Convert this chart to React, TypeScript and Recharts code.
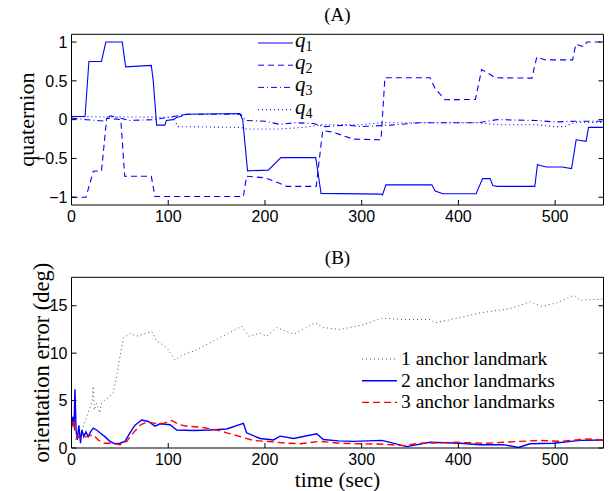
import { LineChart, Line, XAxis, YAxis, Legend } from 'recharts';

// panel A: quaternion components, [time, value]
const q1 = [[0,0.04],[14,0.04],[18,0.75],[31,0.75],[35.5,1.0],[52.5,1.0],[56,0.68],[82.5,0.70],[84.5,0.5],[88,-0.07],[96.5,-0.07],[98,-0.01],[105,0.0],[109,0.03],[113,0.04],[115,0.06],[119,0.07],[174,0.08],[177,0.0],[182,-0.66],[203.5,-0.65],[216.5,-0.49],[252.5,-0.49],[255,-0.7],[258,-0.95],[320,-0.96],[321.5,-0.97],[325,-0.84],[372.5,-0.84],[376,-0.92],[384,-0.955],[418.3,-0.955],[425,-0.76],[432.8,-0.76],[435.5,-0.85],[440,-0.86],[479,-0.86],[481.7,-0.58],[490.7,-0.61],[507,-0.61],[517,-0.63],[521.7,-0.26],[532,-0.28],[534.5,-0.1],[550,-0.1]];
const q2 = [[0,-1.0],[15,-1.0],[22.5,-0.665],[31,-0.66],[36.4,0.02],[51,0.0],[55,-0.73],[82.5,-0.73],[86.3,-0.99],[177.7,-0.99],[181,-0.73],[200,-0.75],[215,-0.82],[222.5,-0.86],[253,-0.86],[259.7,-0.14],[270,-0.16],[291,-0.25],[320,-0.26],[324,0.54],[370.7,0.54],[376,0.40],[386,0.257],[417.6,0.26],[424,0.645],[428,0.62],[438,0.54],[476,0.535],[481,0.807],[490,0.77],[518,0.77],[521.4,0.97],[529.6,0.94],[533,1.0],[550,1.0]];
const q3 = [[0,0.02],[15,0.0],[35,-0.02],[40,0.05],[50,0.02],[60,-0.01],[85,0.0],[100,0.03],[110,0.05],[120,0.07],[175,0.07],[180,-0.01],[200,-0.02],[215,-0.06],[232,-0.04],[250,-0.05],[262,-0.09],[285,-0.07],[300,-0.09],[330,-0.07],[360,-0.04],[420,-0.04],[440,0.0],[480,-0.01],[500,-0.03],[520,-0.02],[550,-0.02]];
const q4 = [[0,0.04],[105,0.03],[110,-0.09],[175,-0.1],[181,-0.12],[216,-0.12],[240,-0.1],[260,-0.065],[300,-0.065],[320,-0.04],[420,-0.04],[440,-0.065],[480,-0.065],[500,-0.09],[510,-0.09],[520,-0.035],[550,-0.035]];

// panel B: orientation error (deg), [time, value]
const anchor1 = [[3.6,0.9],[8.8,1.2],[15.7,3.3],[20.9,4.75],[22.5,6.5],[23.5,4.0],[26,4.7],[29.4,3.7],[31,4.75],[38,5.3],[43.2,5.8],[46.6,7.6],[50.2,9.7],[53.6,11.6],[60.5,12.1],[67.4,11.8],[74.3,12.0],[82.9,12.3],[88,11.3],[98.4,10.6],[107,9.3],[115.7,9.85],[126,10.2],[143.2,11.1],[160.5,12.0],[176,12.85],[183,11.8],[195,12.1],[202,11.8],[212,12.7],[229.6,12.0],[251.8,13.2],[260,12.7],[277.7,12.5],[301.8,13.0],[320.8,13.7],[343,13.55],[370.7,13.55],[375.8,13.2],[394.8,13.6],[422.4,14.25],[453.5,14.7],[474.2,15.4],[486.3,14.95],[501.8,15.3],[519,16.1],[525.9,15.6],[550,15.7]];
const anchor2 = [[0,2.3],[1.6,3.3],[2.6,2.3],[3.6,6.2],[4.7,1.9],[6,0.85],[7.6,2.4],[9.3,0.5],[10.7,1.9],[12.8,1.2],[14.9,1.7],[17.3,1.2],[19.7,1.7],[22.5,2.1],[25.9,1.9],[29.4,1.6],[34.5,1.2],[39.7,0.7],[44.8,0.45],[50,0.5],[55.2,0.7],[60.5,1.6],[65.6,2.4],[72.6,2.95],[79.5,2.8],[86.4,2.3],[91.6,2.55],[101.9,2.45],[108.8,1.9],[126,1.85],[143.2,1.9],[160.5,2.0],[177.7,2.6],[181,1.6],[195,1.0],[208.8,0.85],[215.7,1.25],[229.6,1.0],[253.5,1.5],[260.4,0.9],[276,0.75],[291.6,0.7],[320.8,0.8],[329.5,0.6],[346.6,0.15],[370.7,0.6],[401.8,0.5],[422.4,0.35],[446.5,0.35],[462,0.05],[474,0.45],[498.3,0.5],[525.9,0.8],[550,0.85]];
const anchor3 = [[0,2.1],[2.2,2.9],[3.6,1.6],[6.9,1.2],[10.4,1.0],[15.6,1.2],[22.5,1.4],[27.6,0.85],[32.8,0.5],[41.4,0.5],[50.2,0.35],[57,0.7],[63.9,1.6],[70.8,2.4],[77.7,2.75],[86.4,2.6],[95,2.6],[103.6,2.9],[110.5,2.5],[119.1,2.3],[132.9,2.2],[150.1,1.9],[160.5,1.6],[174.3,1.2],[188,0.8],[201.9,0.7],[222.6,0.5],[236.4,0.45],[257,0.7],[277.7,0.5],[298.3,0.45],[322.5,0.4],[343.2,0.25],[360.4,0.5],[394.8,0.6],[429.3,0.5],[463.8,0.7],[484.5,0.8],[505,0.7],[532.6,0.95],[550,0.85]];

const xTicks = [0, 100, 200, 300, 400, 500];
const qTicks = [-1, -0.5, 0, 0.5, 1];
const errTicks = [0, 5, 10, 15];
const qNames = ['q1', 'q2', 'q3', 'q4'];
const errNames = ['1 anchor landmark', '2 anchor landmarks', '3 anchor landmarks'];

const toPts = (arr: number[][]) => arr.map(([t, v]) => ({ t, v }));

const SERIF = 'Liberation Serif, Times New Roman, serif';
const SANS = 'Liberation Sans, Arial, sans-serif';
const BLUE = '#0000ff';

const qStyles = [
  { dash: undefined },
  { dash: '6 4' },
  { dash: '6 3 1 3' },
  { dash: '1 3' },
];

const errStyles = [
  { color: '#555555', dash: '1 3', width: 1 },
  { color: BLUE, dash: undefined, width: 1.4 },
  { color: '#ff0000', dash: '7 4', width: 1.4 },
];

const minus = (v: number) => (v < 0 ? '\u2212' + Math.abs(v) : String(v));
const blank = () => '';
const tickFont = { fontFamily: SANS, fontSize: 16, fill: '#000' };

function QLegend() {
  return (
    <svg width={80} height={100} style={{ overflow: 'visible' }}>
      {qNames.map((n, i) => (
        <g key={n}>
          <line x1={3} x2={38} y1={15 + i * 22.2} y2={15 + i * 22.2} stroke={BLUE} strokeDasharray={qStyles[i].dash} />
          <text x={40} y={19 + i * 22.2} fontFamily={SERIF} fontSize={21} fontStyle="italic">
            q<tspan fontSize={14} fontStyle="normal" dy={4}>{n.slice(1)}</tspan>
          </text>
        </g>
      ))}
    </svg>
  );
}

function ErrLegend() {
  return (
    <svg width={230} height={76} style={{ overflow: 'visible' }}>
      {errNames.map((n, i) => (
        <g key={n}>
          <line x1={2} x2={37} y1={14 + i * 21.7} y2={14 + i * 21.7} stroke={errStyles[i].color} strokeDasharray={errStyles[i].dash} strokeWidth={errStyles[i].width} />
          <text x={41} y={20 + i * 21.7} fontFamily={SERIF} fontSize={19.5}>{n}</text>
        </g>
      ))}
    </svg>
  );
}

export default function App() {
  return (
    <div style={{ position: 'absolute', left: 0, top: 0, width: 610, height: 491, background: '#fff' }}>
      {/* (A) quaternion */}
      <div style={{ position: 'absolute', left: 0, top: 0 }}>
        <LineChart width={610} height={240} margin={{ top: 33.3, right: 5.5, bottom: 5, left: 0 }}>
          <XAxis dataKey="t" type="number" domain={[0, 550]} ticks={xTicks} allowDataOverflow
            tickSize={-5} tickMargin={11} height={30} tick={tickFont} stroke="#000" />
          <XAxis xAxisId="top" orientation="top" type="number" domain={[0, 550]} ticks={xTicks} allowDataOverflow
            tickSize={-5} height={1} tickFormatter={blank} stroke="#000"
            label={{ value: '(A)', position: 'top', offset: 12, style: { fontFamily: SERIF, fontSize: 19, fill: '#000' } }} />
          <YAxis type="number" domain={[-1.1, 1.1]} ticks={qTicks} allowDataOverflow width={71.5}
            tickSize={-5} tickMargin={9} tick={tickFont} tickFormatter={minus} stroke="#000"
            label={{ value: 'quaternion', angle: -90, position: 'insideLeft', offset: 26, style: { textAnchor: 'middle', fontFamily: SERIF, fontSize: 22, fill: '#000' } }} />
          <YAxis yAxisId="r" orientation="right" type="number" domain={[-1.1, 1.1]} ticks={qTicks} allowDataOverflow width={1}
            tickSize={-5} tickFormatter={blank} stroke="#000" />
          {[q1, q2, q3, q4].map((q, i) => (
            <Line key={qNames[i]} data={toPts(q)} dataKey="v" type="linear" stroke={BLUE} strokeWidth={1.1}
              strokeDasharray={qStyles[i].dash} dot={false} isAnimationActive={false} />
          ))}
          <Legend layout="vertical" align="center" verticalAlign="middle" content={() => <QLegend />}
            wrapperStyle={{ left: 255, top: 28, width: 80 }} />
        </LineChart>
      </div>

      {/* (B) orientation error */}
      <div style={{ position: 'absolute', left: 0, top: 243 }}>
        <LineChart width={610} height={248} margin={{ top: 33.3, right: 5.5, bottom: 0, left: 0 }}>
          <XAxis dataKey="t" type="number" domain={[0, 550]} ticks={xTicks} allowDataOverflow
            tickSize={-5} tickMargin={11} height={43} tick={tickFont} stroke="#000"
            label={{ value: 'time (sec)', position: 'insideBottom', offset: 4, style: { fontFamily: SERIF, fontSize: 21.5, fill: '#000' } }} />
          <XAxis xAxisId="top" orientation="top" type="number" domain={[0, 550]} ticks={xTicks} allowDataOverflow
            tickSize={-5} height={1} tickFormatter={blank} stroke="#000"
            label={{ value: '(B)', position: 'top', offset: 12, style: { fontFamily: SERIF, fontSize: 19, fill: '#000' } }} />
          <YAxis type="number" domain={[0, 18]} ticks={errTicks} allowDataOverflow width={71.5}
            tickSize={-5} tickMargin={9} tick={tickFont} stroke="#000"
            label={{ value: 'orientation error (deg)', angle: -90, position: 'insideLeft', offset: 41, style: { textAnchor: 'middle', fontFamily: SERIF, fontSize: 22.5, fill: '#000' } }} />
          <YAxis yAxisId="r" orientation="right" type="number" domain={[0, 18]} ticks={errTicks} allowDataOverflow width={1}
            tickSize={-5} tickFormatter={blank} stroke="#000" />
          {[anchor1, anchor2, anchor3].map((s, i) => (
            <Line key={errNames[i]} data={toPts(s)} dataKey="v" type="linear" stroke={errStyles[i].color}
              strokeWidth={errStyles[i].width} strokeDasharray={errStyles[i].dash} dot={false} isAnimationActive={false} />
          ))}
          <Legend layout="vertical" align="center" verticalAlign="middle" content={() => <ErrLegend />}
            wrapperStyle={{ left: 360, top: 102, width: 230 }} />
        </LineChart>
      </div>
    </div>
  );
}
